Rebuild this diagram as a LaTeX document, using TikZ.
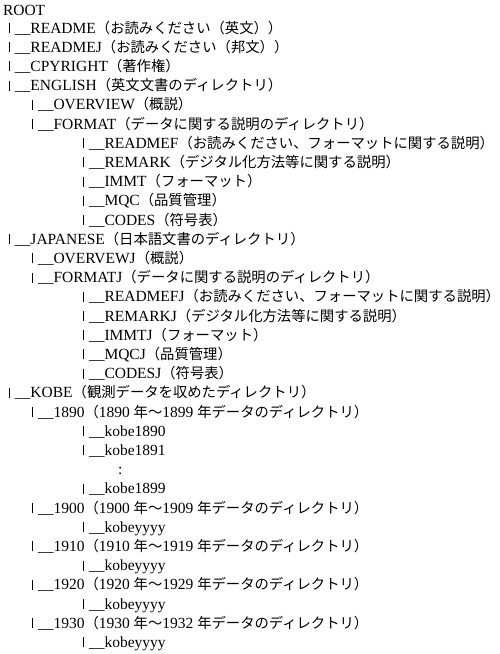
\documentclass[tikz,border=0pt]{standalone}
\usepackage{fontspec}
\setmainfont{Liberation Serif}
\newfontfamily\jpf{Noto Sans CJK JP}[Scale=0.925]
\newcommand\jp[1]{{\jpf #1}}
\newcommand\tbar{\vrule height 10pt depth 0pt width 1pt\hspace{5pt}}
\tikzset{ln/.style={anchor=base west,inner sep=0pt,outer sep=0pt,font=\fontsize{15.5}{19}\selectfont}}
\begin{document}
\begin{tikzpicture}[x=1pt,y=1pt]
\useasboundingbox (0,0) rectangle (500,-654);
\def\xa{9}\def\xb{32}\def\xc{83}
\node[ln] (root) at (3,-15.5) {ROOT};
\node[ln] (readme) at (\xa,-33) {\tbar\_\_README\jp{（お読みください（英文））}};
\node[ln] (readmej) at (\xa,-52.2) {\tbar\_\_READMEJ\jp{（お読みください（邦文））}};
\node[ln] (cpyright) at (\xa,-71.4) {\tbar\_\_CPYRIGHT\jp{（著作権）}};
\node[ln] (english) at (\xa,-90.6) {\tbar\_\_ENGLISH\jp{（英文文書のディレクトリ）}};
\node[ln] (overview) at (\xb,-109.8) {\tbar\_\_OVERVIEW\jp{（概説）}};
\node[ln] (format) at (\xb,-129) {\tbar\_\_FORMAT\jp{（データに関する説明のディレクトリ）}};
\node[ln] (readmef) at (\xc,-148.2) {\tbar\_\_READMEF\jp{（お読みください、フォーマットに関する説明）}};
\node[ln] (remark) at (\xc,-167.4) {\tbar\_\_REMARK\jp{（デジタル化方法等に関する説明）}};
\node[ln] (immt) at (\xc,-186.6) {\tbar\_\_IMMT\jp{（フォーマット）}};
\node[ln] (mqc) at (\xc,-205.8) {\tbar\_\_MQC\jp{（品質管理）}};
\node[ln] (codes) at (\xc,-225) {\tbar\_\_CODES\jp{（符号表）}};
\node[ln] (japanese) at (\xa,-244.2) {\tbar\_\_JAPANESE\jp{（日本語文書のディレクトリ）}};
\node[ln] (overvewj) at (\xb,-263.4) {\tbar\_\_OVERVEWJ\jp{（概説）}};
\node[ln] (formatj) at (\xb,-282.6) {\tbar\_\_FORMATJ\jp{（データに関する説明のディレクトリ）}};
\node[ln] (readmefj) at (\xc,-301.8) {\tbar\_\_READMEFJ\jp{（お読みください、フォーマットに関する説明）}};
\node[ln] (remarkj) at (\xc,-321) {\tbar\_\_REMARKJ\jp{（デジタル化方法等に関する説明）}};
\node[ln] (immtj) at (\xc,-340.2) {\tbar\_\_IMMTJ\jp{（フォーマット）}};
\node[ln] (mqcj) at (\xc,-359.4) {\tbar\_\_MQCJ\jp{（品質管理）}};
\node[ln] (codesj) at (\xc,-378.6) {\tbar\_\_CODESJ\jp{（符号表）}};
\node[ln] (kobe) at (\xa,-397.8) {\tbar\_\_KOBE\jp{（観測データを収めたディレクトリ）}};
\node[ln] (y1890) at (\xb,-417) {\tbar\_\_1890\jp{（}1890\ \jp{年～}1899\ \jp{年データのディレクトリ）}};
\node[ln] (k1890) at (\xc,-436.2) {\tbar\_\_kobe1890};
\node[ln] (k1891) at (\xc,-455.4) {\tbar\_\_kobe1891};
\node[ln] (dots) at (118,-474.6) {:};
\node[ln] (k1899) at (\xc,-493.8) {\tbar\_\_kobe1899};
\node[ln] (y1900) at (\xb,-513) {\tbar\_\_1900\jp{（}1900\ \jp{年～}1909\ \jp{年データのディレクトリ）}};
\node[ln] (k1900) at (\xc,-532.2) {\tbar\_\_kobeyyyy};
\node[ln] (y1910) at (\xb,-551.4) {\tbar\_\_1910\jp{（}1910\ \jp{年～}1919\ \jp{年データのディレクトリ）}};
\node[ln] (k1910) at (\xc,-570.6) {\tbar\_\_kobeyyyy};
\node[ln] (y1920) at (\xb,-589.8) {\tbar\_\_1920\jp{（}1920\ \jp{年～}1929\ \jp{年データのディレクトリ）}};
\node[ln] (k1920) at (\xc,-609) {\tbar\_\_kobeyyyy};
\node[ln] (y1930) at (\xb,-628.2) {\tbar\_\_1930\jp{（}1930\ \jp{年～}1932\ \jp{年データのディレクトリ）}};
\node[ln] (k1930) at (\xc,-647.4) {\tbar\_\_kobeyyyy};
\end{tikzpicture}
\end{document}
